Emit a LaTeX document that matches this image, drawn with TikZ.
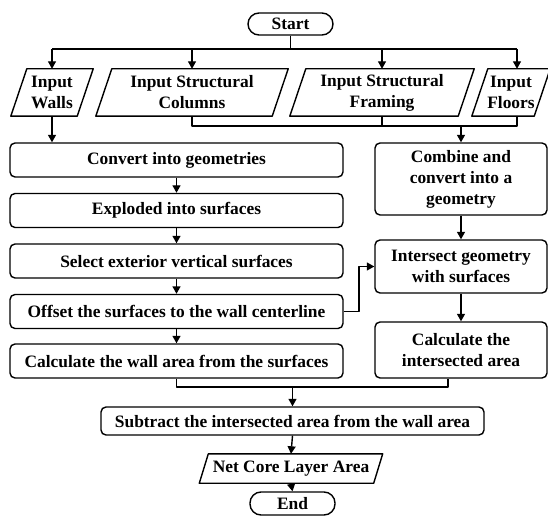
\documentclass[tikz,border=0pt]{standalone}
\usepackage{fontspec}
\setmainfont{Liberation Serif}
\usetikzlibrary{arrows.meta}

\tikzset{
  line/.style={line width=1.4pt, line join=round},
  flow/.style={line, -{Triangle[length=7.5pt,width=8pt]}},
  txt/.style={font=\fontsize{17.4}{21}\selectfont\bfseries, align=center, inner sep=0pt},
  proc/.style={txt, draw, line width=1.4pt, rounded corners=5pt},
  term/.style={txt, draw, line width=1.4pt, rounded corners=11pt},
  iobox/.style={txt},
}
% slanted input/output frame drawn round a plain node
\newcommand\slantframe[2]{%
  \draw[line] ([xshift=-#2]#1.south west) -- ([xshift=#2]#1.north west)
    -- ([xshift=#2]#1.north east) -- ([xshift=-#2]#1.south east) -- cycle;}

\begin{document}
\begin{tikzpicture}[x=1pt,y=-1pt]
\useasboundingbox (0,0) rectangle (548,518);

% start and inputs
\node[term, minimum width=85pt, minimum height=22pt] (start) at (290.5,24) {Start};
\node[iobox, minimum width=66pt, minimum height=47pt] (wal) at (52,92.5) {Input\\Walls};
\node[iobox, minimum width=176pt, minimum height=47pt] (col) at (192,92.5) {Input Structural\\Columns};
\node[iobox, minimum width=168pt, minimum height=47pt] (fra) at (382,92.5) {Input Structural\\Framing};
\node[iobox, minimum width=62pt, minimum height=47pt] (flo) at (511,92.5) {Input\\Floors};
\slantframe{wal}{8pt}
\slantframe{col}{8pt}
\slantframe{fra}{8pt}
\slantframe{flo}{8pt}

% wall branch
\node[proc, minimum width=333pt, minimum height=34pt] (conv) at (176.5,160) {Convert into geometries};
\node[proc, minimum width=333pt, minimum height=34pt] (expl) at (176.5,210.5) {Exploded into surfaces};
\node[proc, minimum width=333pt, minimum height=34pt] (sel) at (176.5,261) {Select exterior vertical surfaces};
\node[proc, minimum width=333pt, minimum height=34pt] (off) at (176.5,311.5) {Offset the surfaces to the wall centerline};
\node[proc, minimum width=333pt, minimum height=34pt] (warea) at (176.5,361) {Calculate the wall area from the surfaces};

% structure branch
\node[proc, minimum width=172pt, minimum height=72pt] (comb) at (461,179) {Combine and\\convert into a\\geometry};
\node[proc, minimum width=172pt, minimum height=53pt] (isect) at (461,266.5) {Intersect geometry\\with surfaces};
\node[proc, minimum width=172pt, minimum height=56pt] (iarea) at (461,350) {Calculate the\\intersected area};

% result
\node[proc, minimum width=383pt, minimum height=28pt] (sub) at (292.5,421) {Subtract the intersected area from the wall area};
\node[iobox, minimum width=174pt, minimum height=29pt] (net) at (291,468.5) {Net Core Layer Area};
\slantframe{net}{4.5pt}
\node[term, minimum width=85pt, minimum height=23pt] (end) at (292.5,503.5) {End};

% routing levels
\coordinate (top) at (0,49);
\coordinate (mid) at (0,126);
\coordinate (side) at (359,0);
\coordinate (low) at (0,387);

% fan-out from start
\draw[line] (start.south) -- (start.south |- top);
\draw[line] (wal.north |- top) -- ([xshift=6pt]flo.north |- top);
\draw[flow] (wal.north |- top) -- (wal.north);
\draw[flow] (col.north |- top) -- (col.north);
\draw[flow] (fra.north |- top) -- (fra.north);
\draw[flow] ([xshift=6pt]flo.north |- top) -- ([xshift=6pt]flo.north);

% wall chain
\draw[flow] (wal.south) -- (wal.south |- conv.north);
\draw[flow] (conv) -- (expl);
\draw[flow] (expl) -- (sel);
\draw[flow] (sel) -- (off);
\draw[flow] (off) -- (warea);

% structural inputs merge
\draw[line] (col.south) -- (col.south |- mid) -- ([xshift=6pt]flo.south |- mid) -- ([xshift=6pt]flo.south);
\draw[line] (fra.south) -- (fra.south |- mid);
\draw[flow] (comb.north |- mid) -- (comb.north);
\draw[flow] (comb) -- (isect);
\draw[flow] (isect) -- (iarea);

% offset surfaces into the intersection
\draw[flow] (off.east) -- (off.east -| side) -- (side |- isect.west) -- (isect.west);

% areas merge into subtraction
\draw[line] (warea.south) -- (warea.south |- low) -- ([xshift=-13pt]iarea.south |- low) -- ([xshift=-13pt]iarea.south);
\draw[flow] (sub.north |- low) -- (sub.north);
\draw[flow] (sub.south) -- (net.north);
\draw[flow] (net.south) -- (end.north);
\end{tikzpicture}
\end{document}
